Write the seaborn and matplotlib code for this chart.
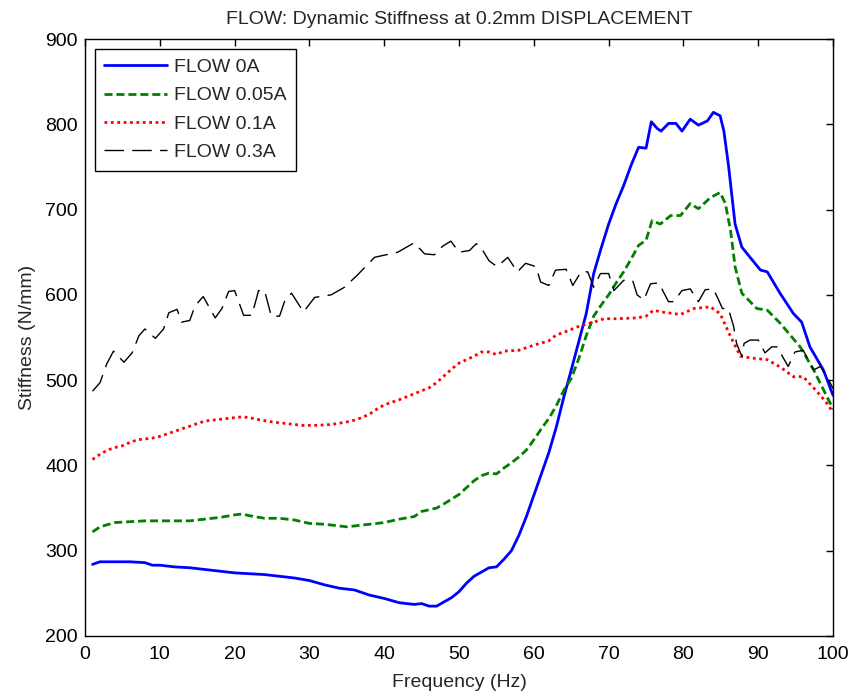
import matplotlib
matplotlib.use("Agg")
import numpy as np
import pandas as pd
import seaborn as sns
from matplotlib import pyplot as plt

sns.set_style("white")
plt.rcParams["font.family"] = ["Liberation Sans", "DejaVu Sans"]

# FLOW 0A
freq_0a = [1, 2, 4, 6, 8, 9, 10, 12, 14, 16, 18, 20, 22, 24, 26, 28, 30, 32, 34, 36, 38, 40, 42, 44, 45, 46,
           47, 48, 49, 50, 51, 52, 53, 54, 55, 56, 57, 58, 59, 60, 61, 62, 63, 64, 65, 66, 67, 68, 69, 70, 71,
           72, 73, 74, 75, 75.7, 76.5, 77, 78, 79, 79.8, 80.9, 82, 83.2, 84, 84.9, 85.4, 86, 86.9, 87.8, 88.9,
           90.3, 91.2, 92.9, 94.7, 95.8, 96.9, 98.7, 100]
stiff_0a = [284, 287, 287, 287, 286, 283, 283, 281, 280, 278, 276, 274, 273, 272, 270, 268, 265, 260, 256, 254,
            248, 244, 239, 237, 238, 235, 235, 240, 245, 252, 262, 270, 275, 280, 281, 290, 300, 318, 340, 365,
            390, 415, 445, 480, 512, 545, 578, 625, 655, 683, 707, 728, 752, 773, 772, 803, 795, 792, 801, 801,
            792, 806, 799, 804, 814, 810, 792, 753, 683, 656, 644, 629, 627, 602, 578, 568, 539, 512, 482]

# FLOW 0.05A
freq_005a = [1, 2, 4, 6, 8, 10, 12, 14, 16, 18, 20, 21, 22, 24, 26, 28, 30, 32, 34, 35, 36, 38, 40, 42, 44, 45,
             47, 48, 50, 52, 53, 54, 55, 56, 57, 58, 59, 60, 61, 62, 63, 64, 65, 66, 67, 68, 69, 70, 71, 72, 73,
             74, 75, 75.8, 76.9, 78.3, 79.6, 80.9, 82, 83.6, 84.9, 85.6, 86.3, 86.9, 87.8, 89.8, 91.2, 92.9,
             95.6, 97.4, 100]
stiff_005a = [322, 328, 333, 334, 335, 335, 335, 335, 337, 339, 342, 343, 341, 338, 338, 336, 332, 331, 329, 328,
              329, 331, 333, 337, 340, 346, 350, 355, 366, 382, 388, 391, 390, 397, 403, 410, 418, 430, 443, 455,
              470, 488, 502, 525, 552, 575, 588, 600, 614, 627, 642, 658, 664, 687, 683, 693, 693, 707, 701, 714,
              720, 707, 675, 633, 602, 584, 582, 567, 539, 512, 466]

# FLOW 0.1A
freq_01a = [1, 2, 3, 4, 5, 6, 7, 8, 9, 10, 11, 12, 13, 14, 15, 16, 18, 20, 21, 22, 23, 25, 27, 29, 31, 33, 35,
            36, 37, 38, 39, 40, 42, 44, 46, 47, 48, 49, 50, 52, 53, 54, 55, 56, 58, 60, 62, 63, 64, 66, 68, 69.4,
            71, 73.8, 75, 76, 77, 79.6, 81.4, 83.6, 84.9, 86.3, 87.6, 89, 91.2, 93, 94.7, 96, 97.5, 99, 100]
stiff_01a = [407, 413, 418, 421, 423, 427, 430, 431, 432, 434, 437, 440, 443, 446, 449, 452, 454, 456, 457, 456,
             454, 451, 449, 447, 447, 448, 451, 453, 456, 460, 466, 471, 477, 484, 491, 497, 505, 513, 520, 528,
             533, 533, 530, 534, 535, 541, 546, 553, 556, 563, 568, 572, 572, 573, 575, 582, 580, 577, 584, 586,
             578, 551, 528, 526, 524, 515, 504, 504, 490, 475, 462]

# FLOW 0.3A
freq_03a = [1, 2.0, 2.9, 3.8, 5.2, 6.3, 7.2, 8.0, 9.4, 10.5, 11.2, 12.3, 12.9, 14.0, 14.7, 15.8, 17.4, 18.3,
            19.2, 20.0, 21.2, 22.3, 23.2, 24.0, 24.9, 26.0, 26.7, 27.6, 29.2, 30.7, 32.9, 34.7, 36.5, 38.7, 41.8,
            44.0, 45.4, 46.7, 47.8, 48.9, 50.0, 51.4, 52.3, 52.9, 54.0, 55.1, 56.5, 57.8, 58.9, 60.3, 60.9, 62.0,
            62.9, 64.3, 65.2, 66.3, 67.2, 68.0, 68.9, 70.0, 70.7, 72.0, 73.2, 73.8, 74.7, 75.6, 76.7, 78.0, 78.7,
            79.8, 80.9, 82.0, 82.9, 84.0, 84.7, 85.2, 86.0, 86.7, 87.1, 87.8, 88.1, 88.9, 90.0, 90.9, 91.8, 92.5,
            94.0, 94.9, 96.0, 97.4, 98.3, 99.2, 100]
stiff_03a = [487, 497, 519, 534, 521, 532, 552, 560, 549, 560, 579, 583, 568, 570, 587, 598, 573, 584, 604, 605,
             576, 576, 605, 605, 575, 575, 593, 602, 580, 597, 600, 609, 624, 644, 650, 661, 648, 647, 657, 663,
             650, 652, 660, 656, 640, 633, 644, 627, 637, 633, 615, 611, 629, 630, 611, 627, 627, 609, 625, 625,
             605, 617, 617, 600, 594, 613, 614, 592, 592, 605, 607, 592, 606, 607, 594, 584, 584, 563, 543, 528,
             543, 547, 547, 532, 539, 539, 516, 533, 535, 512, 516, 504, 490]

series = [
    ("FLOW 0A", freq_0a, stiff_0a, "#0000ff", 2.0, "-"),
    ("FLOW 0.05A", freq_005a, stiff_005a, "#008000", 2.0, (0, (2.9, 1.4))),
    ("FLOW 0.1A", freq_01a, stiff_01a, "#ff0000", 2.0, (0, (1.0, 1.3))),
    ("FLOW 0.3A", freq_03a, stiff_03a, "black", 1.0, (0, (14, 6))),
]

FS = 14

fig = plt.figure(figsize=(8.52, 6.94), dpi=100)
ax = fig.add_axes([0.0998, 0.0836, 0.878, 0.8602])

for name, f, s, color, lw, ls in series:
    df = pd.DataFrame({"Frequency": f, "Stiffness": s})
    sns.lineplot(data=df, x="Frequency", y="Stiffness", ax=ax, color=color, linewidth=lw,
                 linestyle=ls, label=name, estimator=None)

ax.set_xlim(0, 100)
ax.set_ylim(200, 900)
ax.set_xticks(np.arange(0, 101, 10))
ax.set_yticks(np.arange(200, 901, 100))
ax.tick_params(direction="in", length=5, width=1, top=True, right=True, labelsize=FS, colors="black")
ax.tick_params(axis="x", pad=7)
ax.tick_params(axis="y", pad=5)
for sp in ax.spines.values():
    sp.set_visible(True)
    sp.set_color("black")
    sp.set_linewidth(1)

ax.set_xlabel("Frequency (Hz)", fontsize=FS, labelpad=8)
ax.set_ylabel("Stiffness (N/mm)", fontsize=FS, labelpad=7)
ax.set_title("FLOW: Dynamic Stiffness at 0.2mm DISPLACEMENT", fontsize=FS, pad=11)

leg = ax.legend(loc="upper left", fontsize=FS, frameon=True, fancybox=False, edgecolor="black",
                framealpha=1, handlelength=3.2, handletextpad=0.35, labelspacing=0.55, borderpad=0.5,
                borderaxespad=0.5)
leg.get_frame().set_linewidth(1)

fig.savefig("out.png", dpi=100)
